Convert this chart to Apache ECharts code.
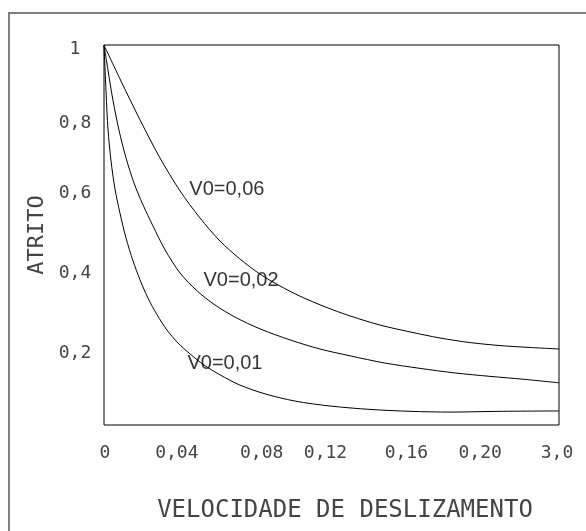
<!DOCTYPE html>
<html>
<head>
<meta charset="utf-8">
<script src="https://cdn.jsdelivr.net/npm/echarts@6/dist/echarts.min.js"></script>
<style>
html,body{margin:0;padding:0;background:#fff;}
#chart{width:586px;height:531px;}
</style>
</head>
<body>
<div id="chart"></div>
<script>
// ---- data ----
var xTickValues = [0, 0.04, 0.08, 0.12, 0.16, 0.20, 0.24];
var xTickLabels = ['0', '0,04', '0,08', '0,12', '0,16', '0,20', '3,0'];
var yTickValues = [0, 0.2, 0.4, 0.6, 0.8, 1];
var yTickLabels = ['', '0,2', '0,4', '0,6', '0,8', '1'];

var seriesNames = ['V0=0,06', 'V0=0,02', 'V0=0,01'];

var xV006 = [0, 0.0084, 0.0190, 0.0295, 0.0401, 0.0506, 0.0612, 0.0717, 0.0823, 0.0928, 0.1034, 0.1166, 0.1298, 0.1456, 0.1614, 0.1772, 0.1930, 0.2089, 0.2247, 0.240];
var yV006 = [1.000, 0.911, 0.803, 0.703, 0.616, 0.545, 0.484, 0.437, 0.397, 0.366, 0.339, 0.311, 0.287, 0.263, 0.245, 0.229, 0.217, 0.209, 0.204, 0.200];

var xV002 = [0, 0.0021, 0.0047, 0.0079, 0.0116, 0.0158, 0.0206, 0.0258, 0.0322, 0.0401, 0.0491, 0.0585, 0.0691, 0.0823, 0.0981, 0.1139, 0.1298, 0.1482, 0.1667, 0.1851, 0.2036, 0.2221, 0.240];
var yV002 = [1.000, 0.934, 0.855, 0.776, 0.703, 0.637, 0.579, 0.524, 0.461, 0.400, 0.353, 0.316, 0.284, 0.253, 0.224, 0.200, 0.182, 0.163, 0.149, 0.137, 0.128, 0.120, 0.111];

var xV001 = [0, 0.0011, 0.0021, 0.0037, 0.0058, 0.0084, 0.0116, 0.0153, 0.0190, 0.0232, 0.0280, 0.0332, 0.0390, 0.0454, 0.0527, 0.0612, 0.0717, 0.0849, 0.1007, 0.1192, 0.1403, 0.1614, 0.1825, 0.2089, 0.240];
var yV001 = [1.000, 0.874, 0.779, 0.695, 0.621, 0.558, 0.492, 0.432, 0.382, 0.334, 0.290, 0.250, 0.216, 0.187, 0.158, 0.132, 0.105, 0.082, 0.063, 0.050, 0.041, 0.036, 0.034, 0.036, 0.037];

// curve label anchor points (data coordinates)
var labelX = [0.0648, 0.0723, 0.0638];
var labelY = [0.621, 0.379, 0.161];

// ---- styling helpers (label nudges in px, not data) ----
var xLabelNudge = [1, -3, 6, -6, -1, -3, -2];
var yLabelNudge = [0, 4, 0, -4, 2, 4];

function pairs(xs, ys) { return xs.map(function (x, i) { return [x, ys[i]]; }); }

var axisFont = 'DejaVu Sans Mono';
var axisColor = '#444';

var xRich = {}, yRich = {};
xLabelNudge.forEach(function (d, i) {
  xRich['x' + i] = { fontFamily: axisFont, fontSize: 18, color: axisColor,
    padding: [0, d < 0 ? -2 * d : 0, 0, d > 0 ? 2 * d : 0] };
});
yLabelNudge.forEach(function (d, i) {
  yRich['y' + i] = { fontFamily: axisFont, fontSize: 18, color: axisColor,
    padding: [d > 0 ? 2 * d : 0, 0, d < 0 ? -2 * d : 0, 0] };
});

var datasets = [pairs(xV006, yV006), pairs(xV002, yV002), pairs(xV001, yV001)];

var series = datasets.map(function (d, i) {
  return {
    name: seriesNames[i],
    type: 'line',
    data: d,
    smooth: 0.3,
    showSymbol: false,
    symbol: 'none',
    lineStyle: { color: '#000', width: 1 },
    z: 3
  };
});

series.push({
  type: 'scatter',
  symbolSize: 0,
  data: labelX.map(function (x, i) { return { value: [x, labelY[i]], name: seriesNames[i] }; }),
  label: {
    show: true,
    position: 'inside',
    formatter: function (p) { return p.name; },
    fontFamily: 'Liberation Sans',
    fontSize: 20,
    color: '#000'
  },
  silent: true,
  z: 4
});

var chart = echarts.init(document.getElementById('chart'), null, { renderer: 'canvas' });
chart.setOption({
  animation: false,
  backgroundColor: '#fff',
  graphic: [{
    type: 'rect',
    shape: { x: 9, y: 13, width: 620, height: 560 },
    style: { fill: null, stroke: '#808080', lineWidth: 2 },
    silent: true
  }],
  grid: {
    left: 104, right: 27, top: 45, bottom: 106,
    show: true, borderColor: '#000', borderWidth: 1, backgroundColor: 'transparent'
  },
  xAxis: {
    type: 'value', min: 0, max: 0.24, interval: 0.04,
    axisLine: { show: false }, axisTick: { show: false }, splitLine: { show: false },
    axisLabel: {
      margin: 19,
      formatter: function (v) {
        var i = Math.round(v / 0.04);
        return '{x' + i + '|' + xTickLabels[i] + '}';
      },
      rich: xRich
    },
    name: 'VELOCIDADE DE DESLIZAMENTO',
    nameLocation: 'middle',
    nameGap: 86,
    nameTextStyle: { fontFamily: axisFont, fontSize: 24, color: axisColor,
      verticalAlign: 'middle', padding: [0, 0, 0, 27] }
  },
  yAxis: {
    type: 'value', min: 0, max: 1, interval: 0.2,
    axisLine: { show: false }, axisTick: { show: false }, splitLine: { show: false },
    axisLabel: {
      margin: 29, align: 'center',
      formatter: function (v) {
        var i = Math.round(v / 0.2);
        return yTickLabels[i] ? '{y' + i + '|' + yTickLabels[i] + '}' : '';
      },
      rich: yRich
    },
    name: 'ATRITO',
    nameLocation: 'middle',
    nameGap: 67,
    nameTextStyle: { fontFamily: axisFont, fontSize: 22, color: axisColor, verticalAlign: 'middle' }
  },
  series: series
});
</script>
</body>
</html>
